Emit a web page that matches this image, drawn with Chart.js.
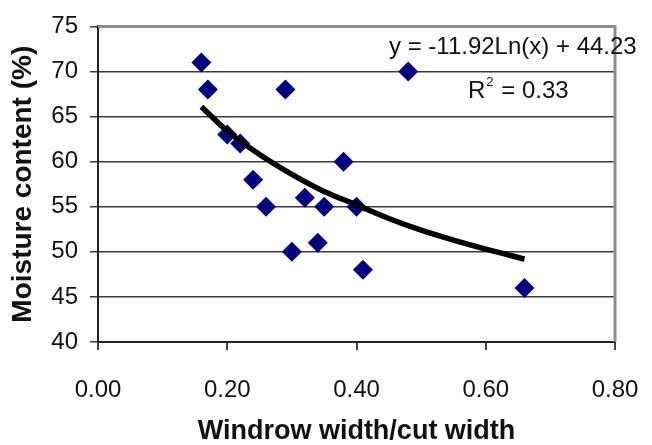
<!DOCTYPE html>
<html>
<head>
<meta charset="utf-8">
<script src="https://cdn.jsdelivr.net/npm/chart.js@4.4.1/dist/chart.umd.min.js"></script>
<style>
  html, body { margin: 0; padding: 0; background: #fff; }
</style>
</head>
<body>
<canvas id="myChart" width="652" height="445"></canvas>
<script>
// windrow width / cut width vs moisture content
var ratio = [0.16, 0.17, 0.29, 0.20, 0.22, 0.38, 0.24, 0.32, 0.26, 0.35, 0.40, 0.34, 0.30, 0.41, 0.48, 0.66];
var moisture = [71, 68, 68, 63, 62, 60, 58, 56, 55, 55, 55, 51, 50, 48, 70, 46];

// log trend curve
var trend_x = [0.16, 0.20, 0.25, 0.30, 0.35, 0.40, 0.45, 0.50, 0.55, 0.60, 0.66];
var trend_y = [66.1, 63.4, 60.8, 58.6, 56.7, 55.2, 53.7, 52.4, 51.3, 50.3, 49.2];

var equation_text = 'y = -11.92Ln(x) + 44.23';
var r2_value = ' = 0.33';

var x_min = 0, x_max = 0.8, x_step = 0.2;
var y_min = 40, y_max = 75, y_step = 5;

var font_name = '"Liberation Sans", Arial, sans-serif';

var scatter_points = ratio.map(function(r, i) {
  return { x: r, y: moisture[i] };
});
var trend_points = trend_x.map(function(t, i) {
  return { x: t, y: trend_y[i] };
});

// gray frame on top/right plus the trendline label
var framePlugin = {
  id: 'frameAndLabel',
  afterDatasetsDraw: function(chart) {
    var ctx = chart.ctx;
    var a = chart.chartArea;
    ctx.save();
    ctx.strokeStyle = '#8c8c8c';
    ctx.lineWidth = 3;
    ctx.beginPath();
    ctx.moveTo(a.left, a.top);
    ctx.lineTo(a.right, a.top);
    ctx.lineTo(a.right, a.bottom);
    ctx.stroke();

    ctx.fillStyle = '#111';
    ctx.font = '24px ' + font_name;
    ctx.textBaseline = 'middle';
    ctx.textAlign = 'left';
    ctx.fillText(equation_text, 389, 47);

    ctx.fillText('R', 468, 91);
    var rw = ctx.measureText('R').width;
    ctx.font = '13px ' + font_name;
    ctx.fillText('2', 468 + rw + 1, 82);
    var sw = ctx.measureText('2').width;
    ctx.font = '24px ' + font_name;
    ctx.fillText(r2_value, 468 + rw + sw + 2, 91);
    ctx.restore();
  }
};

var ctx = document.getElementById('myChart');
var myChart = new Chart(ctx, {
  type: 'scatter',
  data: {
    datasets: [
      {
        label: 'Trend',
        data: trend_points,
        showLine: true,
        borderColor: '#000',
        borderWidth: 5.5,
        pointRadius: 0,
        cubicInterpolationMode: 'monotone',
        order: 0
      },
      {
        label: 'Moisture',
        data: scatter_points,
        pointStyle: 'rectRot',
        pointRadius: 10,
        pointHoverRadius: 10,
        backgroundColor: '#000080',
        borderColor: '#000080',
        borderWidth: 0,
        order: 1
      }
    ]
  },
  options: {
    responsive: false,
    animation: false,
    layout: {
      padding: { top: 25, right: 37, left: 0, bottom: 0 }
    },
    plugins: {
      legend: { display: false },
      tooltip: { enabled: false }
    },
    scales: {
      x: {
        type: 'linear',
        min: x_min,
        max: x_max,
        afterFit: function(scale) { scale.height = 103; },
        ticks: {
          stepSize: x_step,
          padding: 3,
          color: '#111',
          // tall line box pushes the labels down without widening the side padding
          font: { family: font_name, size: 24, lineHeight: 3.15 },
          callback: function(v) { return Number(v).toFixed(2); }
        },
        grid: {
          drawOnChartArea: false,
          drawTicks: true,
          tickLength: 8,
          color: '#444',
          lineWidth: 2
        },
        border: { display: true, color: '#222', width: 2 },
        title: {
          display: true,
          text: 'Windrow width/cut width',
          color: '#111',
          font: { family: font_name, size: 27, weight: 'bold', lineHeight: 1.0 },
          padding: { top: 0, bottom: 0 }
        }
      },
      y: {
        min: y_min,
        max: y_max,
        afterFit: function(scale) { scale.width = 98; },
        ticks: {
          stepSize: y_step,
          padding: 12,
          color: '#111',
          font: { family: font_name, size: 24 }
        },
        grid: {
          color: '#3a3a3a',
          lineWidth: 1.5,
          tickLength: 8
        },
        border: { display: true, color: '#222', width: 2 },
        title: {
          display: true,
          text: 'Moisture content (%)',
          color: '#111',
          font: { family: font_name, size: 28, weight: 'bold', lineHeight: 1.2 },
          padding: { top: 6, bottom: 0 }
        }
      }
    }
  },
  plugins: [framePlugin]
});
</script>
</body>
</html>
